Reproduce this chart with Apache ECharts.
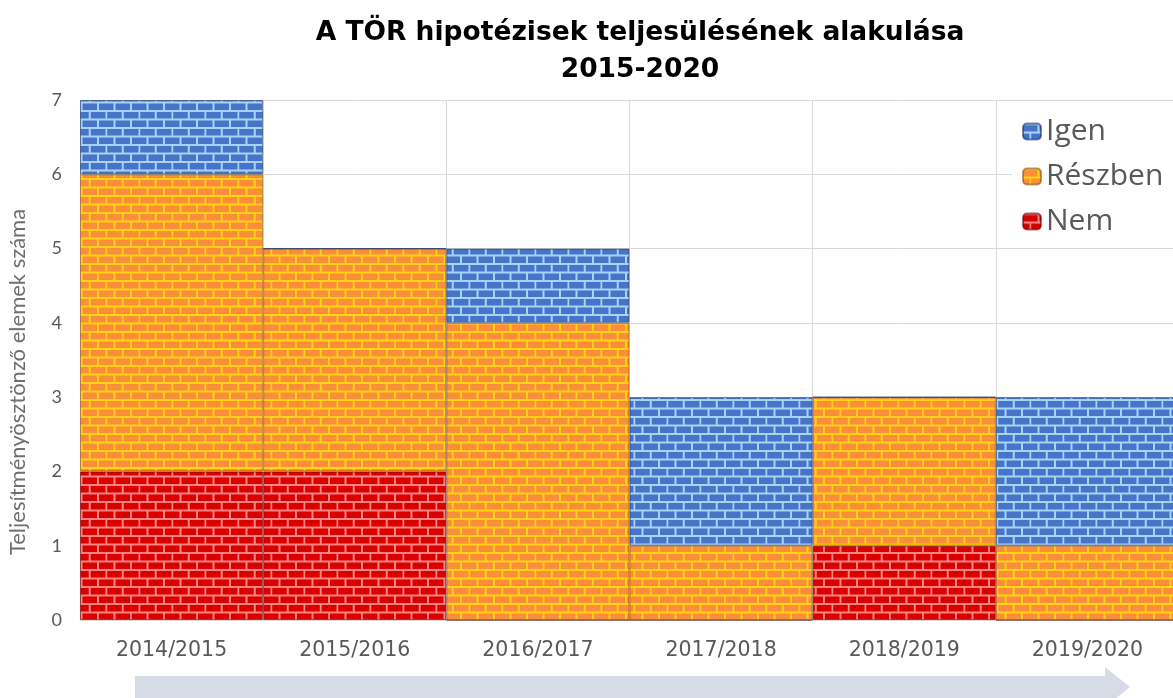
<!DOCTYPE html>
<html>
<head>
<meta charset="utf-8">
<script src="https://cdn.jsdelivr.net/npm/echarts@6/dist/echarts.min.js"></script>
<style>
  html, body { margin: 0; padding: 0; background: #fff; }
  #chart { width: 1173px; height: 698px; }
</style>
</head>
<body>
<div id="chart"></div>
<script>
const categories = ['2014/2015', '2015/2016', '2016/2017', '2017/2018', '2018/2019', '2019/2020'];
const nemValues = [2, 2, 0, 0, 1, 0];
const reszbenValues = [4, 3, 4, 1, 2, 1];
const igenValues = [1, 0, 1, 2, 0, 2];
const yTicks = [0, 1, 2, 3, 4, 5, 6, 7];

// brick pattern tile
function brick(brickColor, mortarColor){
    let c = document.createElement('canvas');
    c.width = 33;
    c.height = 17;
    let ctx = c.getContext('2d');
    ctx.fillStyle = mortarColor;
    ctx.fillRect(0, 0, 33, 17);
    ctx.fillStyle = brickColor;
    // row 1
    ctx.fillRect(0, 1.5, 14.5, 6.5);
    ctx.fillRect(16.5, 1.5, 14.5, 6.5);
    // row 2 (offset)
    ctx.fillRect(-8, 10, 14.5, 6.5);
    ctx.fillRect(8.25, 10, 14.5, 6.5);
    ctx.fillRect(24.75, 10, 14.5, 6.5);
    return { image: c, repeat: 'repeat' };
}

const blueFill = brick('#4674C8', '#A8D2F4');
const orangeFill = brick('#FB8E3A', '#FFD215');
const redFill = brick('#DA0000', '#F88484');

function makeSeries(name, data, fill, border){
    return {
        name: name,
        type: 'bar',
        stack: 'total',
        barCategoryGap: 0,
        barGap: 0,
        data: data,
        itemStyle: {
            color: fill,
            borderColor: border,
            borderWidth: 1
        },
        emphasis: { disabled: true }
    };
}

let chart = echarts.init(document.getElementById('chart'), null, { renderer: 'canvas' });
let option = {
    animation: false,
    title: {
        text: 'A TÖR hipotézisek teljesülésének alakulása\n2015-2020',
        left: 635,
        textAlign: 'center',
        top: 10,
        textStyle: {
            fontFamily: 'DejaVu Sans',
            fontWeight: 'bold',
            fontSize: 26.5,
            lineHeight: 37,
            color: '#000'
        }
    },
    legend: {
        data: ['Igen', 'Részben', 'Nem'],
        orient: 'vertical',
        left: 1012,
        top: 112,
        itemWidth: 18,
        itemHeight: 16,
        itemGap: 14,
        padding: [4, 20, 4, 10],
        backgroundColor: '#fff',
        textStyle: {
            fontFamily: 'Open Sans',
            fontSize: 30,
            lineHeight: 31,
            color: '#595959'
        }
    },
    grid: {
        left: 80,
        right: -6,
        top: 100,
        bottom: 78,
        containLabel: false,
        outerBoundsMode: 'none'
    },
    xAxis: {
        type: 'category',
        data: categories,
        axisLine: { show: false },
        axisTick: { show: false },
        axisLabel: {
            fontFamily: 'DejaVu Sans',
            fontSize: 20.5,
            color: '#595959',
            margin: 20
        },
        splitLine: { show: true, lineStyle: { color: '#D9D9D9', width: 1 } }
    },
    yAxis: {
        type: 'value',
        min: yTicks[0],
        max: yTicks[yTicks.length - 1],
        interval: 1,
        name: 'Teljesítményösztönző elemek száma',
        nameLocation: 'middle',
        nameGap: 51,
        nameTextStyle: {
            fontFamily: 'Lato',
            fontSize: 22,
            color: '#6F6F6F',
            padding: [0, 44, 0, 0]
        },
        axisLabel: {
            fontFamily: 'Lato',
            fontSize: 18,
            color: '#595959',
            margin: 18
        },
        splitLine: { lineStyle: { color: '#D9D9D9', width: 1 } }
    },
    series: [
        makeSeries('Nem', nemValues, redFill, 'rgba(90,0,0,0.55)'),
        makeSeries('Részben', reszbenValues, orangeFill, 'rgba(120,60,0,0.5)'),
        makeSeries('Igen', igenValues, blueFill, 'rgba(20,40,90,0.55)')
    ],
    graphic: [
        {
            type: 'polygon',
            shape: {
                points: [[135, 676], [1105, 676], [1105, 667], [1130, 687], [1105, 707], [1105, 698], [135, 698]]
            },
            style: { fill: '#D6DCE5' },
            z: -1
        }
    ]
};
chart.setOption(option);
</script>
</body>
</html>
